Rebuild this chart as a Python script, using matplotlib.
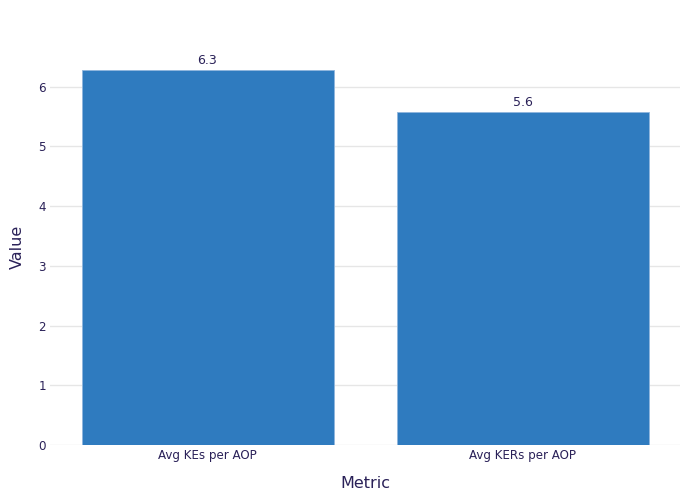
import matplotlib.pyplot as plt

# data
metrics = ["Avg KEs per AOP", "Avg KERs per AOP"]
values = [6.28, 5.58]
labels = ["6.3", "5.6"]

txt = "#2a2158"
bar_col = "#2f7bbf"

fig = plt.figure(figsize=(7, 5), dpi=100)
ax = fig.add_axes([50 / 700, 55 / 500, 630 / 700, 396 / 500])

x = range(len(metrics))
bars = ax.bar(x, values, width=0.8, color=bar_col, edgecolor="#8fb6dd", linewidth=0.6, zorder=2)
for b, lab in zip(bars, labels):
    ax.annotate(lab, (b.get_x() + b.get_width() / 2, b.get_height()),
                xytext=(0, 2), textcoords="offset points",
                ha="center", va="bottom", fontsize=9, color=txt)

ax.set_xlim(-0.5, 1.5)
ax.set_ylim(0, 6.63)
ax.set_yticks(range(0, 7))
ax.set_xticks(list(x))
ax.set_xticklabels(metrics)
ax.grid(axis="y", color="#e6e6e6", linewidth=1, zorder=0)
ax.set_axisbelow(True)
for s in ax.spines.values():
    s.set_visible(False)
ax.tick_params(length=0, labelsize=8.6, colors=txt, pad=3)
ax.tick_params(axis="y", pad=3)

fig.text(365 / 700, 17 / 500, "Metric", fontsize=11.5, color=txt, ha="center", va="center")
fig.text(17 / 700, 253 / 500, "Value", fontsize=11.5, color=txt, ha="center", va="center",
         rotation=90)

fig.savefig("out.png", dpi=100)
